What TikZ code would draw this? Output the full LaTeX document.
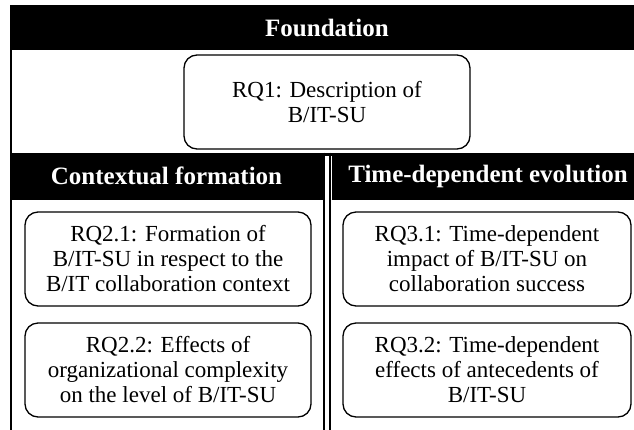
\documentclass[tikz,border=0pt]{standalone}
\usepackage{fontspec}
\setmainfont{Liberation Serif}
\begin{document}
\begin{tikzpicture}[x=1pt,y=-1pt,
  header/.style={fill=black,text=white,font=\fontsize{25}{28}\selectfont\bfseries,inner sep=0pt,anchor=center},
  rq/.style={draw=black,line width=1.3pt,rounded corners=13pt,fill=white,align=center,
    font=\fontsize{23}{25}\selectfont,inner sep=0pt,minimum height=94pt},
  frame/.style={line width=1.7pt}]
\useasboundingbox (0,0) rectangle (634,429);
\fill[white] (0,0) rectangle (634,429);

% section headers
\node[header,minimum width=634pt,minimum height=45pt] (found) at (327,27.5) {Foundation};
\node[header,minimum width=313pt,minimum height=47pt] (ctx) at (166.5,176) {Contextual formation};
\node[header,minimum width=312pt,minimum height=47pt] (tde) at (488,176) {Time-dependent evolution};

% frame lines
\fill (10,152.5) rectangle (644,155.5);
\draw[frame] (11,5) -- (11,435);
\draw[frame] (324.2,152.5) -- (324.2,435);
\draw[frame] (330.2,152.5) -- (330.2,435);

% research questions
\node[rq,minimum width=286pt] (rq1) at (327,102) {RQ1: Description of\\B/IT-SU};
\node[rq,minimum width=286pt] (rq21) at (168,259) {RQ2.1: Formation of\\B/IT-SU in respect to the\\B/IT collaboration context};
\node[rq,minimum width=286pt] (rq22) at (168,370) {RQ2.2: Effects of\\organizational complexity\\on the level of B/IT-SU};
\node[rq,minimum width=288pt] (rq31) at (487,259) {RQ3.1: Time-dependent\\impact of B/IT-SU on\\collaboration success};
\node[rq,minimum width=288pt] (rq32) at (487,370) {RQ3.2: Time-dependent\\effects of antecedents of\\B/IT-SU};
\end{tikzpicture}
\end{document}
